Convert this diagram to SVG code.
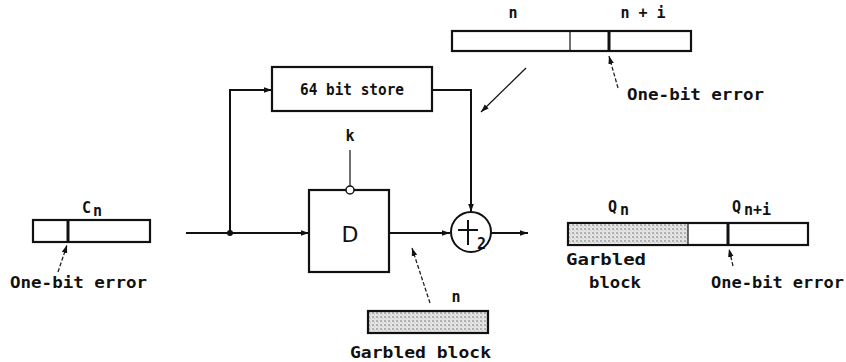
<svg xmlns="http://www.w3.org/2000/svg" width="846" height="362" viewBox="0 0 846 362">
<defs>
<marker id="ah" viewBox="0 0 10 10" refX="10" refY="5" markerWidth="8" markerHeight="8" markerUnits="userSpaceOnUse" orient="auto"><path d="M0,1.5 L10,5 L0,8.5 z" fill="#111"/></marker>
<pattern id="hatch" width="4" height="4" patternUnits="userSpaceOnUse"><rect width="4" height="4" fill="#e4e4e4"/><rect x="0" y="0" width="2" height="2" fill="#b0b0b0"/><rect x="2" y="2" width="1" height="1" fill="#c4c4c4"/></pattern>
<style>
.ln{stroke:#111;stroke-width:2;fill:none}
.box{stroke:#111;stroke-width:2.2;fill:#fff}
.hbox{stroke:#111;stroke-width:2.2;fill:url(#hatch)}
.thin{stroke:#111;stroke-width:1.2;fill:none}
.dash{stroke:#222;stroke-width:1.3;fill:none;stroke-dasharray:4 2}
.div{stroke:#111;stroke-width:3}
.t{font-family:"DejaVu Sans Mono","Liberation Mono",monospace;font-size:15px;font-weight:bold;fill:#111}
.big{font-family:"DejaVu Sans","Liberation Sans",sans-serif;font-size:22px;fill:#111}
</style>
</defs>

<g id="connectors">
<path class="ln" d="M186,233 H309" marker-end="url(#ah)"/>
<path class="ln" d="M230,233 V90 H272" marker-end="url(#ah)"/>
<path class="ln" d="M432,90 H471 V212" marker-end="url(#ah)"/>
<path class="ln" d="M389,233 H450" marker-end="url(#ah)"/>
<path class="ln" d="M491,233 H528" marker-end="url(#ah)"/>
<path class="thin" d="M350,150 V186"/>
<circle cx="230" cy="233" r="3" fill="#111"/>
<path class="thin" d="M526,68 L481,112" marker-end="url(#ah)"/>
<path class="dash" d="M618,88 L609,56" marker-end="url(#ah)"/>
<path class="dash" d="M430,303 L412,248" marker-end="url(#ah)"/>
<path class="dash" d="M58,272 L67,245" marker-end="url(#ah)"/>
<path class="dash" d="M733,266 L729,249" marker-end="url(#ah)"/>
</g>

<g id="store">
<rect class="box" x="272" y="67" width="160" height="44"/>
<text class="t" x="352" y="95" text-anchor="middle" textLength="104" lengthAdjust="spacingAndGlyphs">64 bit store</text>
</g>

<g id="k-input">
<text class="t" x="350" y="141" text-anchor="middle">k</text>
</g>

<g id="D">
<rect class="box" x="309" y="190" width="80" height="82"/>
<circle cx="350" cy="190" r="4" fill="#fff" stroke="#111" stroke-width="1.5"/>
<text class="big" x="350" y="242" text-anchor="middle">D</text>
</g>

<g id="xor">
<circle cx="471" cy="232" r="20" fill="#fff" stroke="#111" stroke-width="2"/>
<path class="ln" d="M458,230 H478 M468,220 V245"/>
<text class="t" x="477" y="249" font-size="14">2</text>
</g>

<g id="input-block">
<text class="t" x="82" y="213" font-size="17">C</text>
<text class="t" x="93" y="216" font-size="12">n</text>
<rect class="box" x="33" y="220" width="117" height="22"/>
<line class="div" x1="68" y1="220" x2="68" y2="242"/>
<text class="t" x="10" y="288" textLength="137" lengthAdjust="spacingAndGlyphs">One-bit error</text>
</g>

<g id="top-block">
<text class="t" x="513" y="18" text-anchor="middle" font-size="12">n</text>
<text class="t" x="643" y="18" text-anchor="middle" font-size="12">n + i</text>
<rect class="box" x="452" y="31" width="239" height="20"/>
<line class="thin" x1="570" y1="31" x2="570" y2="51" stroke-width="2"/>
<line class="div" x1="609" y1="31" x2="609" y2="51"/>
<text class="t" x="627" y="100" textLength="137" lengthAdjust="spacingAndGlyphs">One-bit error</text>
</g>

<g id="garbled-block">
<text class="t" x="456" y="302" text-anchor="middle" font-size="12">n</text>
<rect class="hbox" x="368" y="311" width="120" height="22"/>
<text class="t" x="350" y="358" textLength="141" lengthAdjust="spacingAndGlyphs">Garbled  block</text>
</g>

<g id="output-block">
<text class="t" x="608" y="212" font-size="17">Q</text>
<text class="t" x="620" y="215" font-size="12">n</text>
<text class="t" x="732" y="212" font-size="17">Q</text>
<text class="t" x="744" y="215" font-size="12">n+i</text>
<rect class="box" x="568" y="223" width="240" height="22"/>
<rect x="569" y="224" width="119" height="20" fill="url(#hatch)"/>
<line class="thin" x1="688" y1="223" x2="688" y2="245" stroke-width="2"/>
<line class="div" x1="728" y1="223" x2="728" y2="245"/>
<text class="t" x="566" y="265" textLength="80" lengthAdjust="spacingAndGlyphs">Garbled</text>
<text class="t" x="589" y="288" textLength="52" lengthAdjust="spacingAndGlyphs">block</text>
<text class="t" x="711" y="288" textLength="133" lengthAdjust="spacingAndGlyphs">One-bit error</text>
</g>
</svg>
